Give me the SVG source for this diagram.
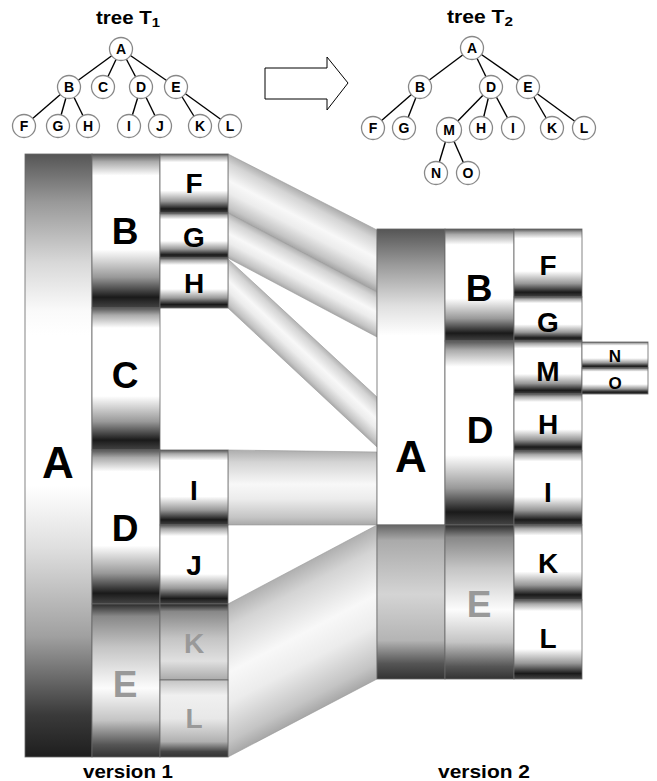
<svg xmlns="http://www.w3.org/2000/svg" width="657" height="781" viewBox="0 0 657 781">
<style>
text{font-family:"Liberation Sans",Arial,sans-serif;font-weight:bold;text-anchor:middle;dominant-baseline:central}
.tn circle{fill:#fff;stroke:#888;stroke-width:1.3}
.tn text{font-size:14px;fill:#000}
.te line{stroke:#000;stroke-width:1.4}
.cell{stroke:#666;stroke-width:0.8}
.big{font-size:44px}
.mid{font-size:37px}
.sm{font-size:28px}
.xs{font-size:17px}
.gray{fill:#999}
.band{stroke:#999;stroke-width:0.6}
.title{font-size:18px}
</style>
<defs>
<linearGradient id="cell" x1="0" y1="0" x2="0" y2="1">
<stop offset="0" stop-color="#555"/><stop offset="0.05" stop-color="#aaa"/><stop offset="0.14" stop-color="#fff"/><stop offset="0.62" stop-color="#fff"/><stop offset="0.8" stop-color="#999"/><stop offset="0.93" stop-color="#1a1a1a"/><stop offset="1" stop-color="#444"/>
</linearGradient>
<linearGradient id="aLeft" x1="0" y1="0" x2="0" y2="1">
<stop offset="0" stop-color="#555"/><stop offset="0.08" stop-color="#999"/><stop offset="0.18" stop-color="#d8d8d8"/><stop offset="0.26" stop-color="#fafafa"/><stop offset="0.3" stop-color="#fff"/><stop offset="0.55" stop-color="#fff"/><stop offset="0.65" stop-color="#e0e0e0"/><stop offset="0.8" stop-color="#a0a0a0"/><stop offset="0.93" stop-color="#3a3a3a"/><stop offset="1" stop-color="#1e1e1e"/>
</linearGradient>
<linearGradient id="aRightTop" x1="0" y1="0" x2="0" y2="1">
<stop offset="0" stop-color="#555"/><stop offset="0.12" stop-color="#999"/><stop offset="0.26" stop-color="#e0e0e0"/><stop offset="0.36" stop-color="#fff"/><stop offset="1" stop-color="#fff"/>
</linearGradient>
<linearGradient id="aRightBot" x1="0" y1="0" x2="0" y2="1">
<stop offset="0" stop-color="#666"/><stop offset="0.1" stop-color="#aaa"/><stop offset="0.45" stop-color="#d4d4d4"/><stop offset="0.75" stop-color="#b4b4b4"/><stop offset="0.9" stop-color="#555"/><stop offset="1" stop-color="#333"/>
</linearGradient>
<linearGradient id="eCol" x1="0" y1="0" x2="0" y2="1">
<stop offset="0" stop-color="#2a2a2a"/><stop offset="0.08" stop-color="#888"/><stop offset="0.28" stop-color="#c4c4c4"/><stop offset="0.55" stop-color="#fcfcfc"/><stop offset="0.76" stop-color="#c4c4c4"/><stop offset="0.92" stop-color="#555"/><stop offset="1" stop-color="#333"/>
</linearGradient>
<linearGradient id="kFade" x1="0" y1="0" x2="0" y2="1">
<stop offset="0" stop-color="#222"/><stop offset="0.1" stop-color="#888"/><stop offset="0.45" stop-color="#c4c4c4"/><stop offset="0.75" stop-color="#e0e0e0"/><stop offset="1" stop-color="#aaa"/>
</linearGradient>
<linearGradient id="lFade" x1="0" y1="0" x2="0" y2="1">
<stop offset="0" stop-color="#c4c4c4"/><stop offset="0.2" stop-color="#f0f0f0"/><stop offset="0.5" stop-color="#e8e8e8"/><stop offset="0.8" stop-color="#b0b0b0"/><stop offset="0.93" stop-color="#444"/><stop offset="1" stop-color="#333"/>
</linearGradient>
<linearGradient id="bandG">
<stop offset="0" stop-color="#b0b0b0"/><stop offset="0.15" stop-color="#d4d4d4"/><stop offset="0.45" stop-color="#f8f8f8"/><stop offset="0.65" stop-color="#ececec"/><stop offset="0.9" stop-color="#c4c4c4"/><stop offset="1" stop-color="#a8a8a8"/>
</linearGradient>
<linearGradient id="bF" href="#bandG" gradientUnits="userSpaceOnUse" x1="314.6" y1="199" x2="290.4" y2="245.5"/>
<linearGradient id="bG" href="#bandG" gradientUnits="userSpaceOnUse" x1="311.8" y1="257.4" x2="293.2" y2="292.6"/>
<linearGradient id="bH" href="#bandG" gradientUnits="userSpaceOnUse" x1="315" y1="339.1" x2="290" y2="365.9"/>
<linearGradient id="bI" href="#bandG" gradientUnits="userSpaceOnUse" x1="302" y1="451" x2="302" y2="525"/>
<linearGradient id="bKL" href="#bandG" gradientUnits="userSpaceOnUse" x1="271" y1="581.3" x2="334" y2="701.2"/>
</defs>
<rect width="657" height="781" fill="#fff"/>

<g id="connectors">
<polygon class="band" fill="url(#bF)" points="228,154 377,230 377,292 228,213"/>
<polygon class="band" fill="url(#bG)" points="228,213 377,292 377,337 228,258"/>
<polygon class="band" fill="url(#bH)" points="228,259 377,397 377,447 228,308"/>
<polygon class="band" fill="url(#bI)" points="228,450 377,452 377,525 228,525"/>
<polygon class="band" fill="url(#bKL)" points="228,604 377,525 377,679 228,757"/>
<g class="te">
<line x1="121" y1="49" x2="69" y2="87"/><line x1="121" y1="49" x2="103" y2="87"/><line x1="121" y1="49" x2="141" y2="87"/><line x1="121" y1="49" x2="176" y2="87"/>
<line x1="69" y1="87" x2="24" y2="126"/><line x1="69" y1="87" x2="58" y2="126"/><line x1="69" y1="87" x2="88" y2="126"/>
<line x1="141" y1="87" x2="129" y2="126"/><line x1="141" y1="87" x2="160" y2="126"/>
<line x1="176" y1="87" x2="200" y2="126"/><line x1="176" y1="87" x2="230" y2="126"/>
<line x1="472" y1="48" x2="420" y2="87"/><line x1="472" y1="48" x2="491" y2="87"/><line x1="472" y1="48" x2="528" y2="87"/>
<line x1="420" y1="87" x2="373" y2="128"/><line x1="420" y1="87" x2="404" y2="128"/>
<line x1="491" y1="87" x2="449" y2="130"/><line x1="491" y1="87" x2="481" y2="128"/><line x1="491" y1="87" x2="513" y2="128"/>
<line x1="528" y1="87" x2="552" y2="128"/><line x1="528" y1="87" x2="584" y2="128"/>
<line x1="449" y1="130" x2="436" y2="173"/><line x1="449" y1="130" x2="468" y2="173"/>
</g>
</g>

<g id="tree1">
<text class="title" x="128" y="18" textLength="64" lengthAdjust="spacingAndGlyphs">tree T<tspan font-size="13" dy="4">1</tspan></text>
<g id="t1-A" class="tn"><circle cx="121" cy="49" r="11.5"/><text x="121" y="49">A</text></g>
<g id="t1-B" class="tn"><circle cx="69" cy="87" r="11.5"/><text x="69" y="87">B</text></g>
<g id="t1-C" class="tn"><circle cx="103" cy="87" r="11.5"/><text x="103" y="87">C</text></g>
<g id="t1-D" class="tn"><circle cx="141" cy="87" r="11.5"/><text x="141" y="87">D</text></g>
<g id="t1-E" class="tn"><circle cx="176" cy="87" r="11.5"/><text x="176" y="87">E</text></g>
<g id="t1-F" class="tn"><circle cx="24" cy="126" r="11.5"/><text x="24" y="126">F</text></g>
<g id="t1-G" class="tn"><circle cx="58" cy="126" r="11.5"/><text x="58" y="126">G</text></g>
<g id="t1-H" class="tn"><circle cx="88" cy="126" r="11.5"/><text x="88" y="126">H</text></g>
<g id="t1-I" class="tn"><circle cx="129" cy="126" r="11.5"/><text x="129" y="126">I</text></g>
<g id="t1-J" class="tn"><circle cx="160" cy="126" r="11.5"/><text x="160" y="126">J</text></g>
<g id="t1-K" class="tn"><circle cx="200" cy="126" r="11.5"/><text x="200" y="126">K</text></g>
<g id="t1-L" class="tn"><circle cx="230" cy="126" r="11.5"/><text x="230" y="126">L</text></g>
</g>

<g id="arrow"><polygon points="265,68 327,68 327,57 348,83 327,110 327,99 265,99" fill="#fff" stroke="#000" stroke-width="1"/></g>

<g id="tree2">
<text class="title" x="480" y="17" textLength="66" lengthAdjust="spacingAndGlyphs">tree T<tspan font-size="13" dy="4">2</tspan></text>
<g id="t2-A" class="tn"><circle cx="472" cy="48" r="11.5"/><text x="472" y="48">A</text></g>
<g id="t2-B" class="tn"><circle cx="420" cy="87" r="11.5"/><text x="420" y="87">B</text></g>
<g id="t2-D" class="tn"><circle cx="491" cy="87" r="11.5"/><text x="491" y="87">D</text></g>
<g id="t2-E" class="tn"><circle cx="528" cy="87" r="11.5"/><text x="528" y="87">E</text></g>
<g id="t2-F" class="tn"><circle cx="373" cy="128" r="11.5"/><text x="373" y="128">F</text></g>
<g id="t2-G" class="tn"><circle cx="404" cy="128" r="11.5"/><text x="404" y="128">G</text></g>
<g id="t2-M" class="tn"><circle cx="449" cy="130" r="12.5"/><text x="449" y="130">M</text></g>
<g id="t2-H" class="tn"><circle cx="481" cy="128" r="11.5"/><text x="481" y="128">H</text></g>
<g id="t2-I" class="tn"><circle cx="513" cy="128" r="11.5"/><text x="513" y="128">I</text></g>
<g id="t2-K" class="tn"><circle cx="552" cy="128" r="11.5"/><text x="552" y="128">K</text></g>
<g id="t2-L" class="tn"><circle cx="584" cy="128" r="11.5"/><text x="584" y="128">L</text></g>
<g id="t2-N" class="tn"><circle cx="436" cy="173" r="11.5"/><text x="436" y="173">N</text></g>
<g id="t2-O" class="tn"><circle cx="468" cy="173" r="11.5"/><text x="468" y="173">O</text></g>
</g>

<g id="version1">
<g id="v1-A"><rect class="cell" x="25" y="154" width="67" height="603" fill="url(#aLeft)"/><text class="big" x="58" y="462">A</text></g>
<g id="v1-B"><rect class="cell" x="92" y="154" width="68" height="154" fill="url(#cell)"/><text class="mid" x="125" y="231">B</text></g>
<g id="v1-C"><rect class="cell" x="92" y="308" width="68" height="142" fill="url(#cell)"/><text class="mid" x="125" y="375">C</text></g>
<g id="v1-D"><rect class="cell" x="92" y="450" width="68" height="154" fill="url(#cell)"/><text class="mid" x="125" y="528">D</text></g>
<g id="v1-E"><rect class="cell" x="92" y="604" width="68" height="153" fill="url(#eCol)"/><text class="mid gray" x="125" y="684">E</text></g>
<g id="v1-F"><rect class="cell" x="160" y="154" width="68" height="59" fill="url(#cell)"/><text class="sm" x="194" y="183">F</text></g>
<g id="v1-G"><rect class="cell" x="160" y="213" width="68" height="45" fill="url(#cell)"/><text class="sm" x="194" y="237">G</text></g>
<g id="v1-H"><rect class="cell" x="160" y="258" width="68" height="50" fill="url(#cell)"/><text class="sm" x="194" y="283">H</text></g>
<g id="v1-I"><rect class="cell" x="160" y="450" width="68" height="75" fill="url(#cell)"/><text class="sm" x="194" y="490">I</text></g>
<g id="v1-J"><rect class="cell" x="160" y="525" width="68" height="79" fill="url(#cell)"/><text class="sm" x="194" y="565">J</text></g>
<g id="v1-K"><rect class="cell" x="160" y="604" width="68" height="76" fill="url(#kFade)"/><text class="sm gray" x="194" y="643">K</text></g>
<g id="v1-L"><rect class="cell" x="160" y="680" width="68" height="77" fill="url(#lFade)"/><text class="sm gray" x="194" y="718">L</text></g>
<text x="128" y="771" font-size="19" textLength="90" lengthAdjust="spacingAndGlyphs">version 1</text>
</g>

<g id="version2">
<g id="v2-A"><rect class="cell" x="377" y="229" width="68" height="296" fill="url(#aRightTop)"/><rect class="cell" x="377" y="525" width="68" height="154" fill="url(#aRightBot)"/><text class="big" x="411" y="456">A</text></g>
<g id="v2-B"><rect class="cell" x="445" y="229" width="69" height="112" fill="url(#cell)"/><text class="mid" x="479" y="288">B</text></g>
<g id="v2-D"><rect class="cell" x="445" y="341" width="69" height="184" fill="url(#cell)"/><text class="mid" x="480" y="430">D</text></g>
<g id="v2-E"><rect class="cell" x="445" y="525" width="69" height="154" fill="url(#eCol)"/><text class="mid gray" x="479" y="604">E</text></g>
<g id="v2-F"><rect class="cell" x="514" y="229" width="68" height="68" fill="url(#cell)"/><text class="sm" x="548" y="265">F</text></g>
<g id="v2-G"><rect class="cell" x="514" y="297" width="68" height="44" fill="url(#cell)"/><text class="sm" x="548" y="322">G</text></g>
<g id="v2-M"><rect class="cell" x="514" y="341" width="68" height="53" fill="url(#cell)"/><text class="sm" x="548" y="371">M</text></g>
<g id="v2-H"><rect class="cell" x="514" y="394" width="68" height="57" fill="url(#cell)"/><text class="sm" x="548" y="424">H</text></g>
<g id="v2-I"><rect class="cell" x="514" y="451" width="68" height="74" fill="url(#cell)"/><text class="sm" x="548" y="492">I</text></g>
<g id="v2-K"><rect class="cell" x="514" y="525" width="68" height="75" fill="url(#cell)"/><text class="sm" x="548" y="563">K</text></g>
<g id="v2-L"><rect class="cell" x="514" y="600" width="68" height="79" fill="url(#cell)"/><text class="sm" x="548" y="638">L</text></g>
<g id="v2-N"><rect class="cell" x="582" y="342" width="66" height="26" fill="url(#cell)"/><text class="xs" x="615" y="356">N</text></g>
<g id="v2-O"><rect class="cell" x="582" y="368" width="66" height="26" fill="url(#cell)"/><text class="xs" x="615" y="383">O</text></g>
<text x="484" y="771" font-size="19" textLength="92" lengthAdjust="spacingAndGlyphs">version 2</text>
</g>
</svg>
